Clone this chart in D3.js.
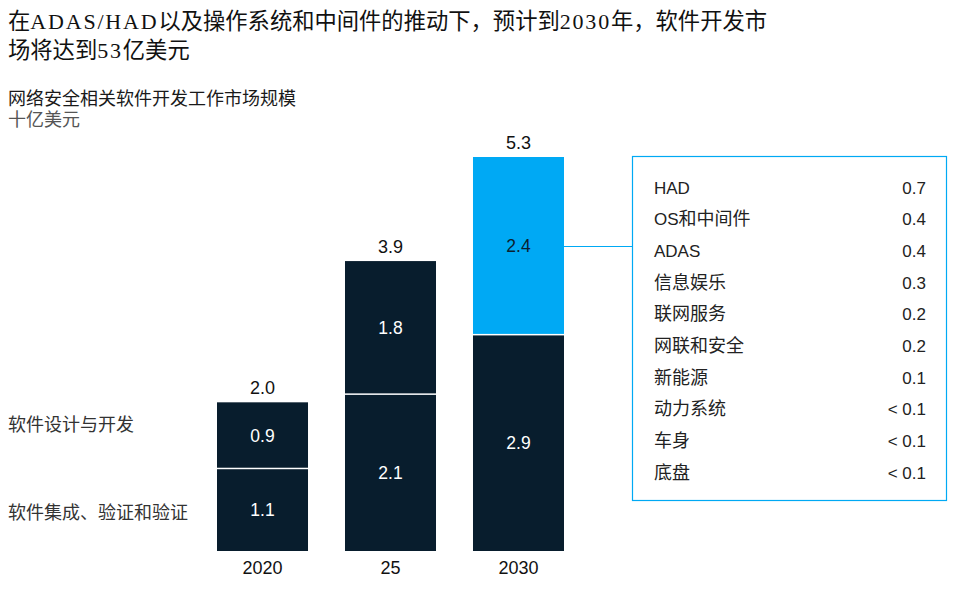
<!DOCTYPE html>
<html><head><meta charset="utf-8">
<script src="https://cdn.jsdelivr.net/npm/d3@7"></script>
<style>
body{margin:0;background:#fff;}
svg{display:block;}
</style></head>
<body>
<svg id="chart" width="964" height="604"></svg>
<script>
const titleLines = ["在ADAS/HAD以及操作系统和中间件的推动下，预计到2030年，软件开发市", "场将达到53亿美元"];
const subtitle = "网络安全相关软件开发工作市场规模";
const unitLabel = "十亿美元";
const years = ["2020", "25", "2030"];
const seriesNames = ["软件集成、验证和验证", "软件设计与开发"];
const integrationValues = [1.1, 2.1, 2.9];
const designValues = [0.9, 1.8, 2.4];
const totals = [2.0, 3.9, 5.3];
const breakdownLabels = ["HAD", "OS和中间件", "ADAS", "信息娱乐", "联网服务", "网联和安全", "新能源", "动力系统", "车身", "底盘"];
const breakdownValues = ["0.7", "0.4", "0.4", "0.3", "0.2", "0.2", "0.1", "< 0.1", "< 0.1", "< 0.1"];

const dark = "#081d2d", blue = "#00a9f4";
const sansNum = "'Liberation Sans', Arial, 'Noto Sans CJK SC', sans-serif";
const serifFont = "'Liberation Serif', 'Noto Sans CJK SC', serif";

const svg = d3.select("#chart");

// split a string into CJK / latin runs, each as a tspan
function mixed(textSel, str, opt) {
  const runs = [];
  const re = /[\u3000-\u9fff\uff00-\uffef]/;
  for (const ch of str) {
    const c = re.test(ch);
    if (runs.length && runs[runs.length - 1].c === c) runs[runs.length - 1].s += ch;
    else runs.push({ c, s: ch });
  }
  runs.forEach(r => {
    const t = textSel.append("tspan").text(r.s);
    if (r.c) t.attr("font-size", opt.cjkSize);
    else {
      t.attr("font-size", opt.latinSize);
      if (opt.spacing) t.attr("letter-spacing", opt.spacing);
    }
  });
}

// Title
titleLines.forEach((line, i) => {
  const t = svg.append("text").attr("x", 8).attr("y", 29 + i * 28.5)
    .attr("font-family", serifFont).attr("font-size", 22).attr("fill", "#111");
  mixed(t, line, { cjkSize: 22.3, latinSize: 22, spacing: 1.8 });
});

svg.append("text").attr("x", 8).attr("y", 105).attr("font-family", serifFont)
  .attr("font-size", 18).attr("fill", "#1a1a1a").text(subtitle);
svg.append("text").attr("x", 8).attr("y", 126).attr("font-family", serifFont)
  .attr("font-size", 18).attr("fill", "#555").text(unitLabel);

const x = d3.scaleBand().domain(years).range([217, 564]).paddingInner(0.289).paddingOuter(0);
const y = d3.scaleLinear().domain([0, 5.3]).range([551, 157]);

const rows = years.map((yr, i) => ({ yr, i, a: integrationValues[i], b: designValues[i], t: totals[i] }));

const g = svg.append("g");
g.selectAll("rect.a").data(rows).join("rect").attr("class", "a")
  .attr("x", d => x(d.yr)).attr("width", x.bandwidth())
  .attr("y", d => y(d.a)).attr("height", d => y(0) - y(d.a))
  .attr("fill", dark);
g.selectAll("rect.b").data(rows).join("rect").attr("class", "b")
  .attr("x", d => x(d.yr)).attr("width", x.bandwidth())
  .attr("y", d => y(d.a + d.b)).attr("height", d => y(d.a) - y(d.a + d.b) - 1.5)
  .attr("fill", d => d.yr === "2030" ? blue : dark);

g.selectAll("text.la").data(rows).join("text").attr("class", "la")
  .attr("x", d => x(d.yr) + x.bandwidth() / 2).attr("y", d => (y(0) + y(d.a)) / 2 + 6)
  .attr("text-anchor", "middle").attr("font-family", sansNum).attr("font-size", 17.5)
  .attr("fill", "#fff").text(d => d.a.toFixed(1));
g.selectAll("text.lb").data(rows).join("text").attr("class", "lb")
  .attr("x", d => x(d.yr) + x.bandwidth() / 2).attr("y", d => (y(d.a) + y(d.a + d.b)) / 2 + 6)
  .attr("text-anchor", "middle").attr("font-family", sansNum).attr("font-size", 17.5)
  .attr("fill", d => d.yr === "2030" ? "#0b1f30" : "#fff").text(d => d.b.toFixed(1));
g.selectAll("text.tot").data(rows).join("text").attr("class", "tot")
  .attr("x", d => x(d.yr) + x.bandwidth() / 2).attr("y", d => y(d.t) - 8)
  .attr("text-anchor", "middle").attr("font-family", sansNum).attr("font-size", 18)
  .attr("fill", "#111").text(d => d.t.toFixed(1));

const xAxis = svg.append("g").attr("transform", `translate(0,${y(0)})`)
  .call(d3.axisBottom(x).tickSize(0).tickPadding(10));
xAxis.select(".domain").remove();
xAxis.selectAll("text").attr("font-family", sansNum).attr("font-size", 18).attr("fill", "#111");

// series labels on the left
svg.append("text").attr("x", 8).attr("y", 519)
  .attr("font-family", serifFont).attr("font-size", 18).attr("fill", "#333").text(seriesNames[0]);
svg.append("text").attr("x", 8).attr("y", 431)
  .attr("font-family", serifFont).attr("font-size", 18).attr("fill", "#333").text(seriesNames[1]);

// breakdown box
const bx = 632.5, by = 156.5, bw = 314, bh = 344;
const connY = 246.5;
svg.append("line").attr("x1", x("2030") + x.bandwidth()).attr("x2", bx)
  .attr("y1", connY).attr("y2", connY).attr("stroke", blue).attr("stroke-width", 1.2);
svg.append("rect").attr("x", bx).attr("y", by).attr("width", bw).attr("height", bh)
  .attr("fill", "none").attr("stroke", blue).attr("stroke-width", 1.2);

const rowY = d3.scalePoint().domain(breakdownLabels).range([187, 472]);
breakdownLabels.forEach((lab, i) => {
  const t = svg.append("text").attr("x", 654).attr("y", rowY(lab) + 6.5)
    .attr("font-family", sansNum).attr("font-size", 17).attr("fill", "#222");
  mixed(t, lab, { cjkSize: 18, latinSize: 17 });
  svg.append("text").attr("x", 926).attr("y", rowY(lab) + 6.5).attr("text-anchor", "end")
    .attr("font-family", sansNum).attr("font-size", 17).attr("fill", "#222").text(breakdownValues[i]);
});
</script>
</body></html>
